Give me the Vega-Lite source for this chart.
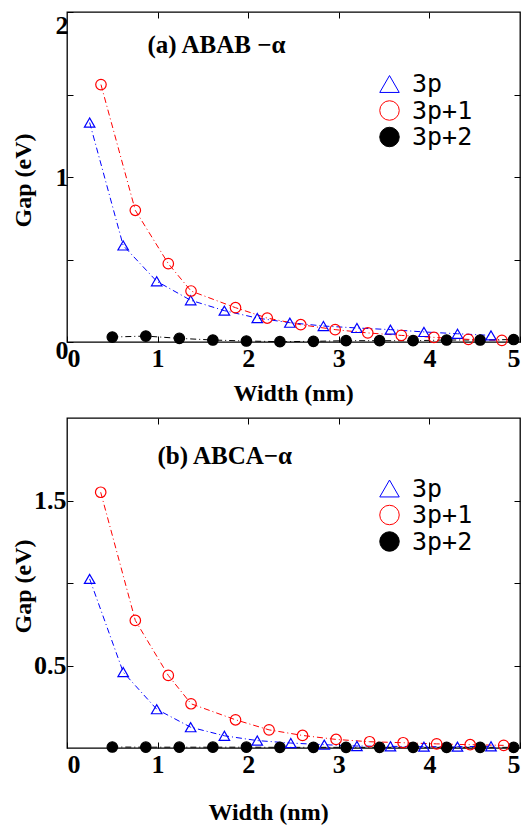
{
  "$schema": "https://vega.github.io/schema/vega-lite/v6.json",
  "background": "white",
  "padding": {"left": 10, "top": 10, "right": 5, "bottom": 4},
  "spacing": 10,
  "datasets": {
    "a": [
      {"series": "3p+2", "w": 0.5, "gap": 0.03},
      {"series": "3p+2", "w": 0.87, "gap": 0.036},
      {"series": "3p+2", "w": 1.24, "gap": 0.022},
      {"series": "3p+2", "w": 1.61, "gap": 0.012},
      {"series": "3p+2", "w": 1.98, "gap": 0.006},
      {"series": "3p+2", "w": 2.35, "gap": 0.002},
      {"series": "3p+2", "w": 2.72, "gap": 0.004},
      {"series": "3p+2", "w": 3.08, "gap": 0.008},
      {"series": "3p+2", "w": 3.45, "gap": 0.008},
      {"series": "3p+2", "w": 3.82, "gap": 0.008},
      {"series": "3p+2", "w": 4.19, "gap": 0.012},
      {"series": "3p+2", "w": 4.56, "gap": 0.012},
      {"series": "3p+2", "w": 4.93, "gap": 0.015},
      {"series": "3p", "w": 0.25, "gap": 1.33},
      {"series": "3p", "w": 0.62, "gap": 0.585},
      {"series": "3p", "w": 0.99, "gap": 0.368},
      {"series": "3p", "w": 1.365, "gap": 0.253},
      {"series": "3p", "w": 1.737, "gap": 0.19},
      {"series": "3p", "w": 2.1, "gap": 0.145},
      {"series": "3p", "w": 2.46, "gap": 0.117},
      {"series": "3p", "w": 2.83, "gap": 0.097},
      {"series": "3p", "w": 3.2, "gap": 0.085},
      {"series": "3p", "w": 3.57, "gap": 0.075},
      {"series": "3p", "w": 3.94, "gap": 0.061},
      {"series": "3p", "w": 4.31, "gap": 0.05},
      {"series": "3p", "w": 4.68, "gap": 0.04},
      {"series": "3p+1", "w": 0.375, "gap": 1.56},
      {"series": "3p+1", "w": 0.754, "gap": 0.798},
      {"series": "3p+1", "w": 1.118, "gap": 0.475},
      {"series": "3p+1", "w": 1.369, "gap": 0.309},
      {"series": "3p+1", "w": 1.86, "gap": 0.208},
      {"series": "3p+1", "w": 2.21, "gap": 0.145},
      {"series": "3p+1", "w": 2.58, "gap": 0.105},
      {"series": "3p+1", "w": 2.96, "gap": 0.075},
      {"series": "3p+1", "w": 3.32, "gap": 0.055},
      {"series": "3p+1", "w": 3.69, "gap": 0.04},
      {"series": "3p+1", "w": 4.05, "gap": 0.028},
      {"series": "3p+1", "w": 4.43, "gap": 0.016},
      {"series": "3p+1", "w": 4.8, "gap": 0.01}
    ],
    "b": [
      {"series": "3p+2", "w": 0.5, "gap": 0.006},
      {"series": "3p+2", "w": 0.87, "gap": 0.005},
      {"series": "3p+2", "w": 1.24, "gap": 0.005},
      {"series": "3p+2", "w": 1.61, "gap": 0.005},
      {"series": "3p+2", "w": 1.98, "gap": 0.005},
      {"series": "3p+2", "w": 2.35, "gap": 0.004},
      {"series": "3p+2", "w": 2.72, "gap": 0.004},
      {"series": "3p+2", "w": 3.08, "gap": 0.004},
      {"series": "3p+2", "w": 3.45, "gap": 0.004},
      {"series": "3p+2", "w": 3.82, "gap": 0.004},
      {"series": "3p+2", "w": 4.19, "gap": 0.004},
      {"series": "3p+2", "w": 4.56, "gap": 0.004},
      {"series": "3p+2", "w": 4.93, "gap": 0.004},
      {"series": "3p", "w": 0.25, "gap": 1.025},
      {"series": "3p", "w": 0.62, "gap": 0.46},
      {"series": "3p", "w": 0.99, "gap": 0.235},
      {"series": "3p", "w": 1.365, "gap": 0.126},
      {"series": "3p", "w": 1.737, "gap": 0.074},
      {"series": "3p", "w": 2.1, "gap": 0.045},
      {"series": "3p", "w": 2.47, "gap": 0.03},
      {"series": "3p", "w": 2.84, "gap": 0.02},
      {"series": "3p", "w": 3.2, "gap": 0.012},
      {"series": "3p", "w": 3.57, "gap": 0.01},
      {"series": "3p", "w": 3.94, "gap": 0.008},
      {"series": "3p", "w": 4.31, "gap": 0.008},
      {"series": "3p", "w": 4.68, "gap": 0.01},
      {"series": "3p+1", "w": 0.372, "gap": 1.55},
      {"series": "3p+1", "w": 0.754, "gap": 0.773},
      {"series": "3p+1", "w": 1.118, "gap": 0.44},
      {"series": "3p+1", "w": 1.369, "gap": 0.268},
      {"series": "3p+1", "w": 1.86, "gap": 0.171},
      {"series": "3p+1", "w": 2.23, "gap": 0.11},
      {"series": "3p+1", "w": 2.6, "gap": 0.076},
      {"series": "3p+1", "w": 2.97, "gap": 0.052},
      {"series": "3p+1", "w": 3.34, "gap": 0.038},
      {"series": "3p+1", "w": 3.71, "gap": 0.032},
      {"series": "3p+1", "w": 4.08, "gap": 0.025},
      {"series": "3p+1", "w": 4.45, "gap": 0.02},
      {"series": "3p+1", "w": 4.82, "gap": 0.016}
    ]
  },
  "vconcat": [
    {
      "width": 453,
      "height": 330,
      "data": {"name": "a"},
      "layer": [
        {
          "mark": {"type": "line", "strokeWidth": 1, "strokeDash": [6, 3, 1, 3]},
          "encoding": {
            "x": {"field": "w", "type": "quantitative", "scale": {"domain": [0, 5], "nice": false, "zero": false},
              "axis": {"orient": "bottom", "values": [0, 1, 2, 3, 4, 5], "labelFlush": true, "labelPadding": 9, "title": "Width (nm)", "titleX": 226, "titleY": 58, "titleBaseline": "alphabetic"}},
            "y": {"field": "gap", "type": "quantitative", "scale": {"domain": [0, 2], "nice": false, "zero": false},
              "axis": {"orient": "left", "values": [0, 0.5, 1, 1.5, 2], "labelExpr": "datum.value == 0 ? '0' : datum.value == 1 ? '1' : datum.value == 2 ? '2' : ''", "labelFlush": true, "labelPadding": 5,
                "labelOffset": {"condition": {"test": "datum.value == 0", "value": 21}, "value": 0},
                "title": "Gap (eV)", "titleX": -37, "titleY": 168, "titleBaseline": "alphabetic"}},
            "color": {"field": "series", "type": "nominal", "scale": {"domain": ["3p+2", "3p", "3p+1"], "range": ["#000000", "#0000ff", "#ff0000"]}, "legend": null}
          }
        },
        {
          "mark": {"type": "point", "opacity": 1, "strokeWidth": 1.2, "size": 110},
          "encoding": {
            "x": {"field": "w", "type": "quantitative", "axis": {"orient": "top", "values": [1, 2, 3, 4], "labels": false, "title": "(a) ABAB −α", "titleX": 80, "titleY": 40, "titleAlign": "left", "titleAnchor": "start", "titleBaseline": "alphabetic", "titleFontSize": 25}},
            "y": {"field": "gap", "type": "quantitative", "axis": {"orient": "right", "values": [0.5, 1, 1.5], "labels": false, "title": null}},
            "stroke": {"field": "series", "type": "nominal", "scale": {"domain": ["3p", "3p+1", "3p+2"], "range": ["#0000ff", "#ff0000", "#000000"]}, "legend": {"orient": "none", "legendX": 310, "legendY": 59.5, "title": null, "encode": {"labels": {"fill": {"condition": [{"test": "datum.label == '3p'", "value": "#0000ff"}, {"test": "datum.label == '3p+1'", "value": "#ff0000"}], "value": "#000000"}}}}},
            "fill": {"field": "series", "type": "nominal", "scale": {"domain": ["3p", "3p+1", "3p+2"], "range": ["transparent", "transparent", "#000000"]}, "legend": {"orient": "none", "legendX": 310, "legendY": 59.5, "title": null, "encode": {"labels": {"fill": {"condition": [{"test": "datum.label == '3p'", "value": "#0000ff"}, {"test": "datum.label == '3p+1'", "value": "#ff0000"}], "value": "#000000"}}}}},
            "shape": {"field": "series", "type": "nominal", "scale": {"domain": ["3p", "3p+1", "3p+2"], "range": ["triangle-up", "circle", "circle"]}, "legend": {"orient": "none", "legendX": 310, "legendY": 59.5, "title": null, "encode": {"labels": {"fill": {"condition": [{"test": "datum.label == '3p'", "value": "#0000ff"}, {"test": "datum.label == '3p+1'", "value": "#ff0000"}], "value": "#000000"}}}}}
          }
        }
      ],
      "resolve": {"axis": {"x": "independent", "y": "independent"}}
    },
    {
      "width": 453,
      "height": 330,
      "data": {"name": "b"},
      "layer": [
        {
          "mark": {"type": "line", "strokeWidth": 1, "strokeDash": [6, 3, 1, 3]},
          "encoding": {
            "x": {"field": "w", "type": "quantitative", "scale": {"domain": [0, 5], "nice": false, "zero": false},
              "axis": {"orient": "bottom", "values": [0, 1, 2, 3, 4, 5], "labelFlush": true, "labelPadding": 9, "title": "Width (nm)", "titleX": 201, "titleY": 71, "titleBaseline": "alphabetic"}},
            "y": {"field": "gap", "type": "quantitative", "scale": {"domain": [0, 2], "nice": false, "zero": false},
              "axis": {"orient": "left", "values": [0.5, 1, 1.5], "labelExpr": "datum.value == 0.5 ? '0.5' : datum.value == 1.5 ? '1.5' : ''", "labelPadding": 7, "title": "Gap (eV)", "titleX": -37, "titleY": 168, "titleBaseline": "alphabetic"}},
            "color": {"field": "series", "type": "nominal", "scale": {"domain": ["3p+2", "3p", "3p+1"], "range": ["#000000", "#0000ff", "#ff0000"]}, "legend": null}
          }
        },
        {
          "mark": {"type": "point", "opacity": 1, "strokeWidth": 1.2, "size": 110},
          "encoding": {
            "x": {"field": "w", "type": "quantitative", "axis": {"orient": "top", "values": [1, 2, 3, 4], "labels": false, "title": "(b) ABCA−α", "titleX": 90, "titleY": 45, "titleAlign": "left", "titleAnchor": "start", "titleBaseline": "alphabetic", "titleFontSize": 25}},
            "y": {"field": "gap", "type": "quantitative", "axis": {"orient": "right", "values": [0.5, 1, 1.5], "labels": false, "title": null}},
            "stroke": {"field": "series", "type": "nominal", "scale": {"domain": ["3p", "3p+1", "3p+2"], "range": ["#0000ff", "#ff0000", "#000000"]}, "legend": {"orient": "none", "legendX": 310, "legendY": 58, "title": null, "encode": {"labels": {"fill": {"condition": [{"test": "datum.label == '3p'", "value": "#0000ff"}, {"test": "datum.label == '3p+1'", "value": "#ff0000"}], "value": "#000000"}}}}},
            "fill": {"field": "series", "type": "nominal", "scale": {"domain": ["3p", "3p+1", "3p+2"], "range": ["transparent", "transparent", "#000000"]}, "legend": {"orient": "none", "legendX": 310, "legendY": 58, "title": null, "encode": {"labels": {"fill": {"condition": [{"test": "datum.label == '3p'", "value": "#0000ff"}, {"test": "datum.label == '3p+1'", "value": "#ff0000"}], "value": "#000000"}}}}},
            "shape": {"field": "series", "type": "nominal", "scale": {"domain": ["3p", "3p+1", "3p+2"], "range": ["triangle-up", "circle", "circle"]}, "legend": {"orient": "none", "legendX": 310, "legendY": 58, "title": null, "encode": {"labels": {"fill": {"condition": [{"test": "datum.label == '3p'", "value": "#0000ff"}, {"test": "datum.label == '3p+1'", "value": "#ff0000"}], "value": "#000000"}}}}}
          }
        }
      ],
      "resolve": {"axis": {"x": "independent", "y": "independent"}}
    }
  ],
  "resolve": {"scale": {"color": "independent", "stroke": "independent", "fill": "independent", "shape": "independent"}},
  "config": {
    "view": {"stroke": "#000000", "strokeWidth": 1.3},
    "axis": {"domain": false, "grid": false, "ticks": true, "tickColor": "#000000", "tickSize": -6, "tickWidth": 1,
      "labelFont": "Liberation Serif", "labelFontWeight": "bold", "labelFontSize": 26, "labelColor": "#000000",
      "titleFont": "Liberation Serif", "titleFontWeight": "bold", "titleFontSize": 24, "titleColor": "#000000"},
    "legend": {"padding": 0, "symbolSize": 380, "symbolStrokeWidth": 1, "labelFont": "DejaVu Sans Mono", "labelFontSize": 25, "labelOffset": 10, "rowPadding": 0.5}
  }
}
